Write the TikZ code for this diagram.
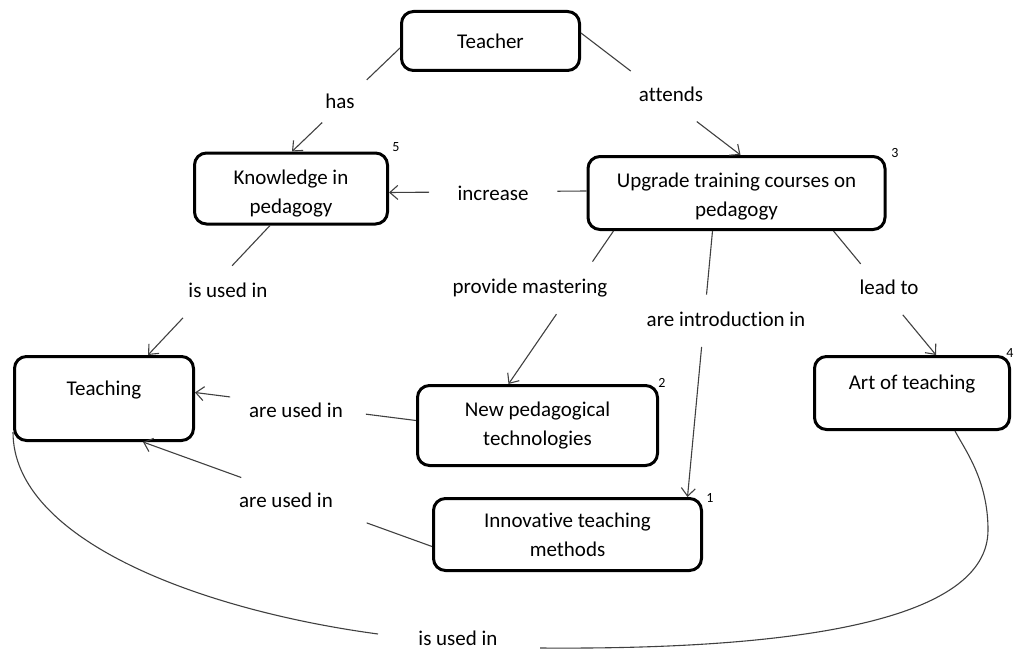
\documentclass[tikz,border=0pt]{standalone}
\usepackage{fontspec}
\setmainfont{Carlito}[Ligatures=NoCommon]
\usetikzlibrary{arrows.meta,calc}
\newcommand{\lowerln}[2]{\raisebox{-#1}[\height][\depth]{#2}}
\begin{document}
\begin{tikzpicture}[x=1pt,y=-1pt,
  box/.style={draw=black, line width=3pt, rounded corners=12pt, align=center,
    font=\fontsize{21}{29}\selectfont, text=black, inner sep=0pt},
  lbl/.style={font=\fontsize{21}{25}\selectfont, inner sep=0pt, text=black},
  num/.style={font=\fontsize{14}{16}\selectfont, inner sep=0pt, text=black},
  conn/.style={draw=black!75, line width=1.1pt},
  arr/.style={conn, -{Straight Barb[length=8pt,width=14pt]}},
]
\useasboundingbox (0,0) rectangle (1014,650);

% boxes
\node[box, minimum width=178pt, minimum height=59pt] (teacher) at (490.5,41) {Teacher};
\node[box, minimum width=193pt, minimum height=71pt] (know) at (291,188.5)
  {\lowerln{5pt}{Knowledge in}\\\lowerln{5pt}{pedagogy}};
\node[box, minimum width=297pt, minimum height=73pt] (upg) at (736.5,193)
  {\lowerln{3.5pt}{Upgrade training courses on}\\\lowerln{3.5pt}{pedagogy}};
\node[box, minimum width=179pt, minimum height=84pt, text height=15pt, text depth=21pt] (teach) at (104,398.5) {Teaching};
\node[box, minimum width=195pt, minimum height=73pt, text height=15pt, text depth=23pt] (art) at (912,393) {Art of teaching};
\node[box, minimum width=240pt, minimum height=80pt] (newp) at (537.5,425.5) {New pedagogical\\technologies};
\node[box, minimum width=268pt, minimum height=72pt] (innov) at (567.5,534.5) {Innovative teaching\\methods};

% numbers
\node[num] (n5) at ([xshift=7pt,yshift=4.5pt]know.north east) {5};
\node[num] (n3) at ([xshift=8.5pt,yshift=2pt]upg.north east) {3};
\node[num] (n2) at ([xshift=3pt,yshift=1pt]newp.north east) {2};
\node[num] (n1) at ([xshift=7pt,yshift=-1pt]innov.north east) {1};
\node[num] (n4) at ([xshift=-1pt,yshift=1.5pt]art.north east) {4};

% connector end points on the boxes
\coordinate (p1) at ([yshift=-7pt]teacher.west);
\coordinate (q1) at ([xshift=1pt]know.north);
\coordinate (p2) at ([yshift=8pt]teacher.east);
\coordinate (q2) at ([xshift=4pt]upg.north);
\coordinate (p3) at ([yshift=2pt]upg.west);
\coordinate (q3) at ([yshift=-4pt]know.east);
\coordinate (p4) at ([xshift=-21pt]know.south);
\coordinate (q4) at ([xshift=44pt]teach.north);
\coordinate (p5) at ([xshift=-123pt]upg.south);
\coordinate (q5) at ([xshift=-29pt]newp.north);
\coordinate (p6) at ([xshift=-24pt]upg.south);
\coordinate (q6) at ([xshift=120pt]innov.north);
\coordinate (p7) at ([xshift=97pt]upg.south);
\coordinate (q7) at ([xshift=24pt]art.north);
\coordinate (p8) at ([yshift=5pt]newp.west);
\coordinate (q8) at ([yshift=6pt]teach.east);
\coordinate (p9) at ([yshift=-12pt]innov.west);
\coordinate (q9) at ([xshift=39pt]teach.south);
\coordinate (c1) at ([yshift=10pt]teach.south west);
\coordinate (c2) at ([xshift=43pt]art.south);

% connectors (broken where the label stands)
\draw[arr] (p1) -- ($(p1)!.308!(q1)$) ($(p1)!.72!(q1)$) -- (q1);
\draw[arr] (p2) -- ($(p2)!.312!(q2)$) ($(p2)!.726!(q2)$) -- (q2);
\draw[arr] (p3) -- ($(p3)!.147!(q3)$) ($(p3)!.797!(q3)$) -- (q3);
\draw[arr] (p4) -- ($(p4)!.311!(q4)$) ($(p4)!.713!(q4)$) -- (q4);
\draw[arr] (p5) -- ($(p5)!.2!(q5)$) ($(p5)!.543!(q5)$) -- (q5);
\draw[arr] (p6) -- ($(p6)!.239!(q6)$) ($(p6)!.436!(q6)$) -- (q6);
\draw[arr] (p7) -- ($(p7)!.265!(q7)$) ($(p7)!.676!(q7)$) -- (q7);
\draw[arr] (p8) -- ($(p8)!.227!(q8)$) ($(p8)!.841!(q8)$) -- (q8);
\draw[arr] (p9) -- ($(p9)!.226!(q9)$) ($(p9)!.66!(q9)$) -- (q9);
\draw[conn] (c1) .. controls (13,540) and (200,610) .. (378,634)
            (540,648) .. controls (800,650) and (988,620) .. (988,530)
            .. controls (988,480) and (965,450) .. (c2);

% connector labels
\node[lbl] (l1) at (340,101) {has};
\node[lbl] (l2) at (671,94) {attends};
\node[lbl] (l3) at (493,193) {increase};
\node[lbl] (l4) at (228,290) {is used in};
\node[lbl] (l5) at (530,288) {provide mastering};
\node[lbl] (l6) at (726,319) {are introduction in};
\node[lbl] (l7) at (889,287) {lead to};
\node[lbl] (l8) at (296,410) {are used in};
\node[lbl] (l9) at (286,500) {are used in};
\node[lbl] (l10) at (458,638) {is used in};
\end{tikzpicture}
\end{document}
